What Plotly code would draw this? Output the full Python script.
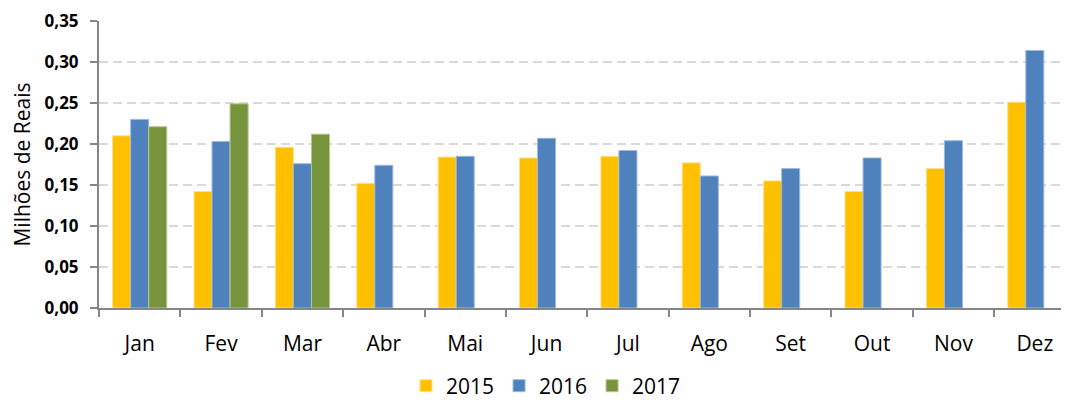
import plotly.graph_objects as go

months = ["Jan", "Fev", "Mar", "Abr", "Mai", "Jun", "Jul", "Ago", "Set", "Out", "Nov", "Dez"]
v2015 = [0.210, 0.142, 0.196, 0.152, 0.184, 0.183, 0.185, 0.177, 0.155, 0.142, 0.170, 0.251]
v2016 = [0.230, 0.203, 0.176, 0.174, 0.185, 0.207, 0.192, 0.161, 0.170, 0.183, 0.204, 0.314]
v2017 = [0.221, 0.249, 0.212, None, None, None, None, None, None, None, None, None]
y_ticks = [0, 0.05, 0.10, 0.15, 0.20, 0.25, 0.30, 0.35]
y_tick_text = ["0,00", "0,05", "0,10", "0,15", "0,20", "0,25", "0,30", "0,35"]

series = [
    ("2015", v2015, "#FFC000", "#FFE08A"),
    ("2016", v2016, "#4F81BD", "#9DB9DE"),
    ("2017", v2017, "#77933C", "#B3C98A"),
]

fig = go.Figure()
for name, vals, col, edge in series:
    fig.add_trace(go.Bar(
        x=months, y=vals, name=name,
        marker=dict(color=col, line=dict(color=edge, width=1)),
    ))

font = "Open Sans, Liberation Sans, sans-serif"
# the page body has an 8px margin, so the figure is sized 8px smaller
fig.update_layout(
    width=1061, height=392,
    margin=dict(l=91, r=0, t=13, b=92, autoexpand=False),
    paper_bgcolor="white", plot_bgcolor="white",
    barmode="group", bargap=0.335, bargroupgap=0,
    font=dict(family=font, color="#000000"),
    showlegend=True,
    legend=dict(orientation="h", x=0.3165, xanchor="left", y=-0.272, yanchor="middle",
                font=dict(size=21, family=font), traceorder="normal",
                itemwidth=30, tracegroupgap=0, borderwidth=0),
    xaxis=dict(
        type="category", range=[-0.5, 11.42], automargin=False,
        showgrid=False, showline=True, linecolor="#868686", linewidth=2,
        ticks="outside", tickson="boundaries", ticklen=7, tickwidth=2, tickcolor="#868686",
        tickfont=dict(size=21, family=font), ticklabelstandoff=16,
    ),
    yaxis=dict(
        range=[0, 0.35], tickvals=y_ticks, ticktext=y_tick_text, automargin=False,
        showgrid=True, gridcolor="#D9D9D9", gridwidth=2, griddash="9px,5px",
        showline=True, linecolor="#868686", linewidth=2,
        ticks="outside", ticklen=7, tickwidth=2, tickcolor="#868686",
        tickfont=dict(size=17, family=font, weight="bold"), ticklabelstandoff=8,
        title=dict(text="Milhões de Reais", font=dict(size=21, family=font), standoff=9),
        zeroline=False,
    ),
)

fig.write_html("out.html")
